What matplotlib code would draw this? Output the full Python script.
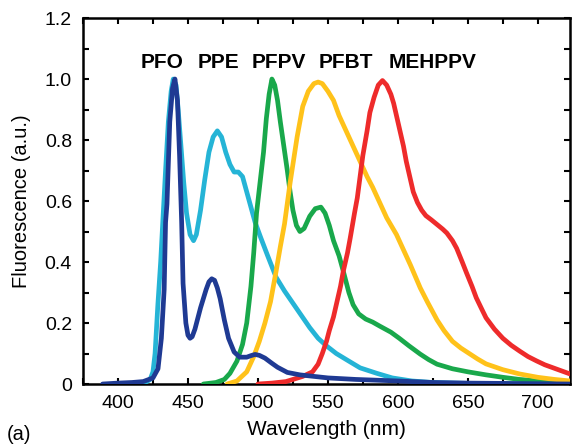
import matplotlib
matplotlib.use("Agg")
import matplotlib.pyplot as plt
from matplotlib.ticker import MultipleLocator, FixedLocator

plt.rcParams['font.family'] = ['Liberation Sans', 'DejaVu Sans']

# Emission spectra (normalised) of the five conjugated polymers
pfo_wl = [389, 400, 410, 418, 425, 428.6, 431, 433, 434, 435, 437, 439, 440.7, 442.5, 444, 445.5,
          446.5, 448.5, 450, 451.5, 453, 455, 459, 463, 465, 467, 469, 471, 473, 476, 479, 483,
          487, 492, 495, 498, 501, 505, 510, 514, 521, 530, 540, 550, 570, 600, 625, 650, 700, 723]
pfo_val = [0, 0.003, 0.005, 0.008, 0.02, 0.05, 0.15, 0.31, 0.53, 0.59, 0.86, 0.97, 1.0, 0.93, 0.75,
           0.53, 0.33, 0.2, 0.16, 0.15, 0.155, 0.18, 0.25, 0.31, 0.335, 0.345, 0.34, 0.315, 0.28,
           0.21, 0.15, 0.105, 0.088, 0.088, 0.093, 0.097, 0.094, 0.085, 0.068, 0.055, 0.038, 0.03,
           0.025, 0.02, 0.015, 0.01, 0.005, 0.003, 0.001, 0.0]

ppe_wl = [400, 410, 416, 420, 423, 425, 426.5, 428.5, 430.5, 432, 434, 436, 438, 439.5, 441.5, 443,
          445, 447, 449, 451.5, 454, 456, 459, 462, 465, 468, 471, 474, 477, 480, 483, 486, 489,
          492, 495, 498, 502, 507, 513, 519, 525, 531, 537, 543, 549, 556, 565, 573, 585, 596,
          610, 625, 650, 700]
ppe_val = [0, 0.002, 0.004, 0.006, 0.015, 0.04, 0.1, 0.26, 0.4, 0.53, 0.7, 0.86, 0.96, 1.0, 0.98,
           0.9, 0.78, 0.66, 0.56, 0.49, 0.47, 0.49, 0.57, 0.67, 0.76, 0.81, 0.83, 0.81, 0.76, 0.72,
           0.695, 0.695, 0.68, 0.63, 0.58, 0.53, 0.48, 0.42, 0.35, 0.305, 0.265, 0.225, 0.185,
           0.15, 0.125, 0.1, 0.075, 0.053, 0.035, 0.02, 0.01, 0.005, 0.002, 0.0]

pfpv_wl = [461, 470, 476, 480, 485, 489, 492, 495, 497, 499, 502, 504, 506, 508, 510, 512, 514, 516,
           518.5, 521, 523, 525, 527.5, 530, 533, 537, 541, 545, 548, 551, 554, 558, 561, 565, 568,
           572, 577, 582, 587, 595, 601, 608, 616, 622, 628, 639, 650, 663, 675, 687, 700, 710, 723]
pfpv_val = [0, 0.005, 0.015, 0.035, 0.075, 0.13, 0.2, 0.32, 0.43, 0.56, 0.68, 0.76, 0.87, 0.95,
            1.0, 0.98, 0.93, 0.86, 0.78, 0.70, 0.63, 0.57, 0.52, 0.5, 0.51, 0.55, 0.575, 0.58,
            0.56, 0.52, 0.47, 0.42, 0.37, 0.30, 0.26, 0.23, 0.213, 0.203, 0.19, 0.17, 0.15, 0.125,
            0.098, 0.08, 0.065, 0.05, 0.04, 0.03, 0.022, 0.015, 0.01, 0.005, 0.003]

pfbt_wl = [478, 485, 492, 497, 501, 505, 509, 511, 513, 516, 519, 523, 526, 528, 532, 536, 540, 543,
           546, 550, 554, 558, 563, 568, 573, 578, 582, 587, 592, 599, 604, 609, 616, 621, 628,
           633, 639, 645, 651, 657, 663, 675, 687, 700, 712, 723]
pfbt_val = [0, 0.01, 0.04, 0.09, 0.14, 0.2, 0.27, 0.32, 0.37, 0.45, 0.525, 0.66, 0.75, 0.81, 0.91,
            0.96, 0.985, 0.99, 0.985, 0.96, 0.93, 0.88, 0.83, 0.78, 0.73, 0.68, 0.645, 0.595,
            0.545, 0.49, 0.44, 0.39, 0.315, 0.27, 0.21, 0.175, 0.14, 0.118, 0.1, 0.082, 0.066,
            0.047, 0.033, 0.022, 0.015, 0.01]

mehppv_wl = [500, 510, 520, 525, 532, 539, 543, 546, 549, 551, 554, 556, 559, 561, 564, 566, 569,
             571, 573, 575, 578, 580, 583, 586, 589, 592, 595, 597, 599, 601, 604, 606, 609, 611,
             614, 617, 620, 624, 628, 632, 635, 639, 642, 646, 649, 653, 656, 660, 663, 669, 675,
             681, 687, 693, 699, 705, 711, 717, 723]
mehppv_val = [0, 0.003, 0.008, 0.015, 0.025, 0.04, 0.065, 0.1, 0.14, 0.175, 0.22, 0.26, 0.32, 0.37,
              0.43, 0.48, 0.56, 0.61, 0.68, 0.75, 0.83, 0.89, 0.94, 0.98, 0.995, 0.98, 0.95, 0.92,
              0.88, 0.84, 0.78, 0.73, 0.67, 0.63, 0.595, 0.57, 0.552, 0.538, 0.523, 0.508, 0.495,
              0.47, 0.445, 0.40, 0.365, 0.32, 0.283, 0.245, 0.217, 0.18, 0.15, 0.127, 0.108, 0.09,
              0.076, 0.063, 0.053, 0.043, 0.033]

names = ['PFO', 'PPE', 'PFPV', 'PFBT', 'MEHPPV']
label_x = [431.5, 471.5, 515, 563, 624.5]
label_y = 1.055

colors = {'PFO': '#1f3a93', 'PPE': '#25b4d6', 'PFPV': '#19a84b',
          'PFBT': '#ffc21a', 'MEHPPV': '#ee2b2b'}

fig = plt.figure(figsize=(5.72, 4.47), dpi=100)
ax = fig.add_axes([0.1451, 0.1409, 0.8514, 0.8188])

style = dict(lw=3.4, solid_capstyle='round', solid_joinstyle='round')
ax.plot(ppe_wl, ppe_val, color=colors['PPE'], zorder=3, **style)
ax.plot(pfpv_wl, pfpv_val, color=colors['PFPV'], zorder=3, **style)
ax.plot(pfbt_wl, pfbt_val, color=colors['PFBT'], zorder=3, **style)
ax.plot(mehppv_wl, mehppv_val, color=colors['MEHPPV'], zorder=3, **style)
ax.plot(pfo_wl, pfo_val, color=colors['PFO'], zorder=4, **style)

for name, lx in zip(names, label_x):
    ax.text(lx, label_y, name, ha='center', va='center', fontsize=15,
            fontweight='bold', color='black')

ax.set_xlim(375, 723)
ax.set_ylim(0, 1.2)

ax.xaxis.set_major_locator(FixedLocator([400, 450, 500, 550, 600, 650, 700]))
ax.xaxis.set_minor_locator(MultipleLocator(25))
ax.set_yticks([0, 0.2, 0.4, 0.6, 0.8, 1.0, 1.2])
ax.set_yticklabels(['0', '0.2', '0.4', '0.6', '0.8', '1.0', '1.2'])
ax.yaxis.set_minor_locator(MultipleLocator(0.1))

ax.tick_params(which='both', direction='in', top=True, right=True,
               length=4, width=1.5, labelsize=14, pad=8)

for sp in ax.spines.values():
    sp.set_linewidth(1.8)

ax.set_xlabel('Wavelength (nm)', fontsize=15, labelpad=6)
ax.set_ylabel('Fluorescence (a.u.)', fontsize=14.5, labelpad=10)
fig.text(0.012, 0.027, '(a)', fontsize=14.5, ha='left', va='center')

fig.savefig('out.png', dpi=100)
